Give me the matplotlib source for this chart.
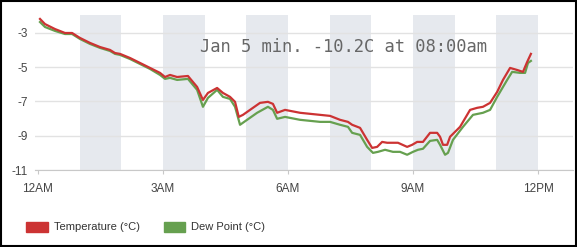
import matplotlib.pyplot as plt
from matplotlib.patches import Rectangle

plt.rcParams['axes.unicode_minus'] = False

# hours after midnight, Jan 5
temp_hours = [0.05, 0.17, 0.41, 0.65, 0.82, 1.01, 1.25, 1.49, 1.73, 1.85, 1.97, 2.21,
              2.45, 2.69, 2.93, 3.05, 3.17, 3.34, 3.60, 3.72, 3.82, 3.96, 4.08, 4.30,
              4.44, 4.61, 4.73, 4.82, 4.92, 5.09, 5.33, 5.52, 5.64, 5.74, 5.93, 6.29,
              6.53, 6.77, 7.01, 7.25, 7.44, 7.54, 7.73, 7.90, 8.02, 8.14, 8.26, 8.38,
              8.52, 8.64, 8.86, 8.98, 9.10, 9.24, 9.41, 9.58, 9.65, 9.72, 9.82, 9.89,
              10.13, 10.37, 10.54, 10.68, 10.85, 11.02, 11.16, 11.33, 11.50, 11.64,
              11.74, 11.83]
temp = [-2.18, -2.48, -2.77, -3.0, -3.0, -3.29, -3.58, -3.82, -3.99, -4.17, -4.22, -4.46,
        -4.75, -5.04, -5.33, -5.57, -5.45, -5.57, -5.51, -5.86, -6.15, -6.91, -6.50, -6.21,
        -6.50, -6.73, -7.02, -7.90, -7.78, -7.49, -7.08, -7.02, -7.14, -7.66, -7.49, -7.66,
        -7.72, -7.78, -7.84, -8.07, -8.19, -8.36, -8.54, -9.24, -9.71, -9.65, -9.36, -9.41,
        -9.41, -9.41, -9.65, -9.53, -9.36, -9.36, -8.83, -8.83, -9.06, -9.53, -9.53, -9.06,
        -8.48, -7.49, -7.37, -7.31, -7.08, -6.44, -5.74, -5.04, -5.16, -5.27,
        -4.69, -4.22]

dew_hours = [0.05, 0.17, 0.41, 0.65, 0.82, 1.01, 1.25, 1.49, 1.73, 1.85, 1.97, 2.21,
             2.45, 2.69, 2.93, 3.05, 3.17, 3.34, 3.60, 3.72, 3.82, 3.96, 4.08, 4.30,
             4.44, 4.61, 4.73, 4.85, 5.02, 5.26, 5.52, 5.64, 5.74, 5.93, 6.29, 6.53,
             6.77, 7.01, 7.25, 7.44, 7.54, 7.73, 7.90, 8.04, 8.16, 8.33, 8.52, 8.69,
             8.86, 9.00, 9.12, 9.24, 9.41, 9.58, 9.65, 9.77, 9.84, 9.96, 10.20, 10.44,
             10.68, 10.85, 11.02, 11.26, 11.38, 11.57, 11.69, 11.76, 11.83]
dew = [-2.36, -2.65, -2.88, -3.06, -3.06, -3.35, -3.64, -3.87, -4.05, -4.22, -4.28, -4.52,
       -4.81, -5.10, -5.45, -5.68, -5.62, -5.74, -5.68, -6.03, -6.32, -7.31, -6.79, -6.32,
       -6.73, -6.85, -7.31, -8.36, -8.07, -7.66, -7.31, -7.49, -8.01, -7.90, -8.07, -8.13,
       -8.19, -8.19, -8.36, -8.48, -8.83, -8.95, -9.65, -10.00, -9.94, -9.82, -9.94, -9.94,
       -10.11, -9.94, -9.82, -9.76, -9.30, -9.24, -9.53, -10.11, -10.00, -9.24, -8.48, -7.78,
       -7.66, -7.49, -6.73, -5.74, -5.27, -5.33, -5.33, -4.75, -4.63]

tick_hours = [0, 3, 6, 9, 12]
tick_labels = ['12AM', '3AM', '6AM', '9AM', '12PM']
y_ticks = [-3, -5, -7, -9, -11]
shaded_hours = [1, 3, 5, 7, 9, 11]

red = '#cc3333'
green = '#66a04f'

fig = plt.figure(figsize=(5.77, 2.47), dpi=100)
ax = fig.add_axes([35 / 577, 77 / 247, 538 / 577, 155 / 247])

for h in shaded_hours:
    ax.axvspan(h, h + 1, color='#e6e9ee', lw=0, zorder=0)

ax.plot(dew_hours, dew, color=green, lw=1.6, zorder=3)
ax.plot(temp_hours, temp, color=red, lw=1.6, zorder=4)

ax.set_xlim(-0.07, 12.84)
ax.set_ylim(-11, -1.95)
ax.set_yticks(y_ticks)
ax.set_xticks(tick_hours)
ax.set_xticklabels(tick_labels)
ax.grid(axis='y', color='#e2e2e2', lw=1, zorder=1)
for s in ['top', 'right', 'left']:
    ax.spines[s].set_visible(False)
ax.spines['bottom'].set_color('#c8c8c8')
ax.tick_params(axis='y', length=0, pad=5, labelsize=8.5, labelcolor='#444444')
ax.tick_params(axis='x', length=3, color='#c8c8c8', pad=6, labelsize=8.5, labelcolor='#444444')
for lab in ax.get_xticklabels() + ax.get_yticklabels():
    lab.set_family('Liberation Sans')

fig.text(200 / 577, (247 - 47) / 247, 'Jan 5 min. -10.2C at 08:00am',
         family='DejaVu Sans Mono', fontsize=12.3, color='#666666', va='center')

# legend
fig.add_artist(Rectangle((26 / 577, 15 / 247), 22 / 577, 10 / 247,
                         transform=fig.transFigure, color=red))
fig.text(54 / 577, 20 / 247, 'Temperature (°C)', family='Liberation Sans',
         fontsize=8, color='#333333', va='center')
fig.add_artist(Rectangle((164 / 577, 15 / 247), 21 / 577, 10 / 247,
                         transform=fig.transFigure, color=green))
fig.text(191 / 577, 20 / 247, 'Dew Point (°C)', family='Liberation Sans',
         fontsize=8, color='#333333', va='center')

# outer frame
fig.add_artist(Rectangle((0.001, 0.004), 0.997, 0.993, transform=fig.transFigure,
                         fill=False, ec='black', lw=1.5))

fig.savefig('out.png', dpi=100)
